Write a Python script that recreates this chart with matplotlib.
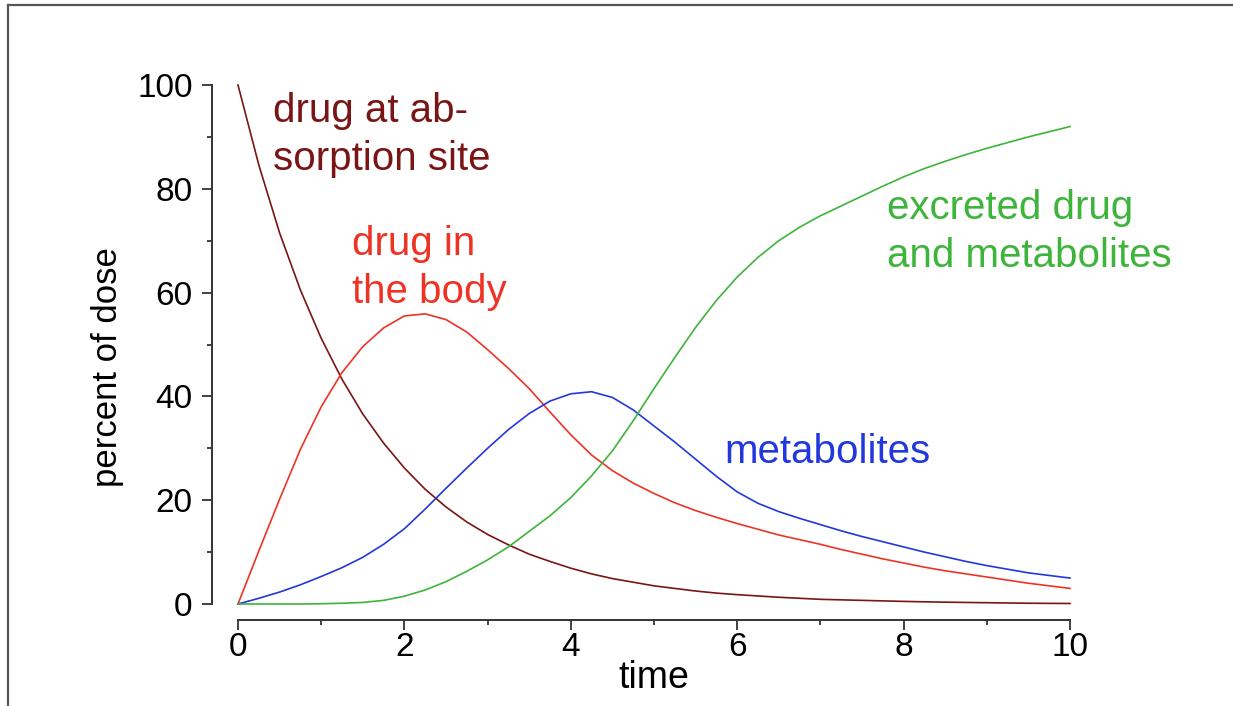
import numpy as np
import matplotlib as mpl
mpl.use('Agg')
import matplotlib.pyplot as plt
from matplotlib.lines import Line2D

plt.rcParams['font.family'] = ['Liberation Sans', 'DejaVu Sans']

# time axis (same for all curves), 0.25 steps
t = [0, 0.25, 0.5, 0.75, 1.0, 1.25, 1.5, 1.75, 2.0, 2.25, 2.5, 2.75, 3.0, 3.25, 3.5, 3.75,
     4.0, 4.25, 4.5, 4.75, 5.0, 5.25, 5.5, 5.75, 6.0, 6.25, 6.5, 6.75, 7.0, 7.25, 7.5, 7.75,
     8.0, 8.25, 8.5, 8.75, 9.0, 9.25, 9.5, 9.75, 10.0]

# percent of dose
absorption = [100, 84.6, 71.5, 60.5, 51.2, 43.3, 36.6, 31.0, 26.2, 22.1, 18.7, 15.8, 13.4, 11.4, 9.6, 8.2,
              6.9, 5.8, 4.9, 4.2, 3.5, 3.0, 2.5, 2.1, 1.8, 1.55, 1.3, 1.1, 0.9, 0.8, 0.7, 0.6,
              0.5, 0.42, 0.35, 0.3, 0.25, 0.2, 0.15, 0.12, 0.1]
body = [0, 10.2, 20.2, 29.8, 38.0, 44.6, 49.6, 53.2, 55.5, 55.9, 54.8, 52.4, 49.0, 45.4, 41.5, 37.0,
        32.6, 28.7, 25.7, 23.3, 21.3, 19.5, 18.0, 16.7, 15.5, 14.4, 13.3, 12.4, 11.5, 10.5, 9.6, 8.7,
        7.9, 7.1, 6.4, 5.8, 5.2, 4.6, 4.0, 3.5, 3.0]
metabolites = [0, 1.1, 2.3, 3.7, 5.3, 7.0, 9.0, 11.5, 14.5, 18.3, 22.3, 26.2, 30.0, 33.6, 36.7, 39.1,
               40.5, 40.9, 39.8, 37.4, 34.3, 31.2, 27.9, 24.6, 21.6, 19.4, 17.8, 16.5, 15.3, 14.1, 13.0, 12.0,
               11.0, 10.0, 9.1, 8.2, 7.4, 6.7, 6.0, 5.5, 5.0]
excreted = [0, 0, 0, 0, 0.05, 0.15, 0.3, 0.7, 1.5, 2.7, 4.3, 6.3, 8.5, 11.0, 14.0, 17.0,
            20.5, 24.7, 29.5, 35.3, 41.5, 47.5, 53.3, 58.5, 63.0, 66.8, 70.0, 72.6, 74.8, 76.7, 78.6, 80.5,
            82.3, 83.9, 85.3, 86.6, 87.8, 88.9, 90.0, 91.0, 92.0]

c_abs = '#7a1515'
c_body = '#ee3325'
c_met = '#2238dd'
c_exc = '#3db43a'

fig = plt.figure(figsize=(12.33, 7.06), dpi=100)
ax = fig.add_axes([238/1233, 1-604/706, 832/1233, 519/706])

for y, c in [(absorption, c_abs), (body, c_body), (metabolites, c_met), (excreted, c_exc)]:
    ax.plot(t, y, color=c, lw=1.2, clip_on=False, solid_joinstyle='round')

ax.set_xlim(0, 10)
ax.set_ylim(0, 100)
ax.set_xticks([0, 2, 4, 6, 8, 10])
ax.set_xticks([1, 3, 5, 7, 9], minor=True)
ax.set_yticks([0, 20, 40, 60, 80, 100])
ax.set_yticks([10, 30, 50, 70, 90], minor=True)

for s in ['top', 'right']:
    ax.spines[s].set_visible(False)
ax.spines['left'].set_position(('outward', 18.7))
ax.spines['bottom'].set_position(('outward', 11.5))
ax.spines['left'].set_bounds(0, 100)
ax.spines['bottom'].set_bounds(0, 10)
for s in ['left', 'bottom']:
    ax.spines[s].set_linewidth(1.4)
    ax.spines[s].set_color('#333333')
ax.tick_params(which='major', direction='out', length=7, width=1.3, color='#333333',
               labelsize=24)
ax.tick_params(which='minor', direction='out', length=3.5, width=1.3, color='#333333')
ax.tick_params(axis='y', which='major', pad=7)
ax.tick_params(axis='x', which='major', pad=2)

ax.set_xlabel('time', fontsize=27, va='center')
ax.xaxis.set_label_coords(0.5, (604-678)/519)
ax.set_ylabel('percent of dose', fontsize=25, va='center')
ax.yaxis.set_label_coords((108-238)/832, (604-367)/519)

# labels: y is the baseline of the last line
fs = 29
ax.text(0.42, 83.6, 'drug at ab-\nsorption site', color=c_abs, fontsize=fs,
        ha='left', va='baseline', linespacing=1.33)
ax.text(1.37, 58.0, 'drug in\nthe body', color=c_body, fontsize=fs,
        ha='left', va='baseline', linespacing=1.33)
ax.text(5.84, 27.1, 'metabolites', color=c_met, fontsize=fs,
        ha='left', va='baseline')
ax.text(7.8, 65.0, 'excreted drug\nand metabolites', color=c_exc, fontsize=fs,
        ha='left', va='baseline', linespacing=1.33)

# frame around the picture (only top and left edges show)
fig.add_artist(Line2D([8/1233, 8/1233], [0, 1-5/706], transform=fig.transFigure,
                      color='#555555', lw=1.6))
fig.add_artist(Line2D([8/1233, 1], [1-5/706, 1-5/706], transform=fig.transFigure,
                      color='#555555', lw=1.6))

plt.savefig('out.png', dpi=100)
